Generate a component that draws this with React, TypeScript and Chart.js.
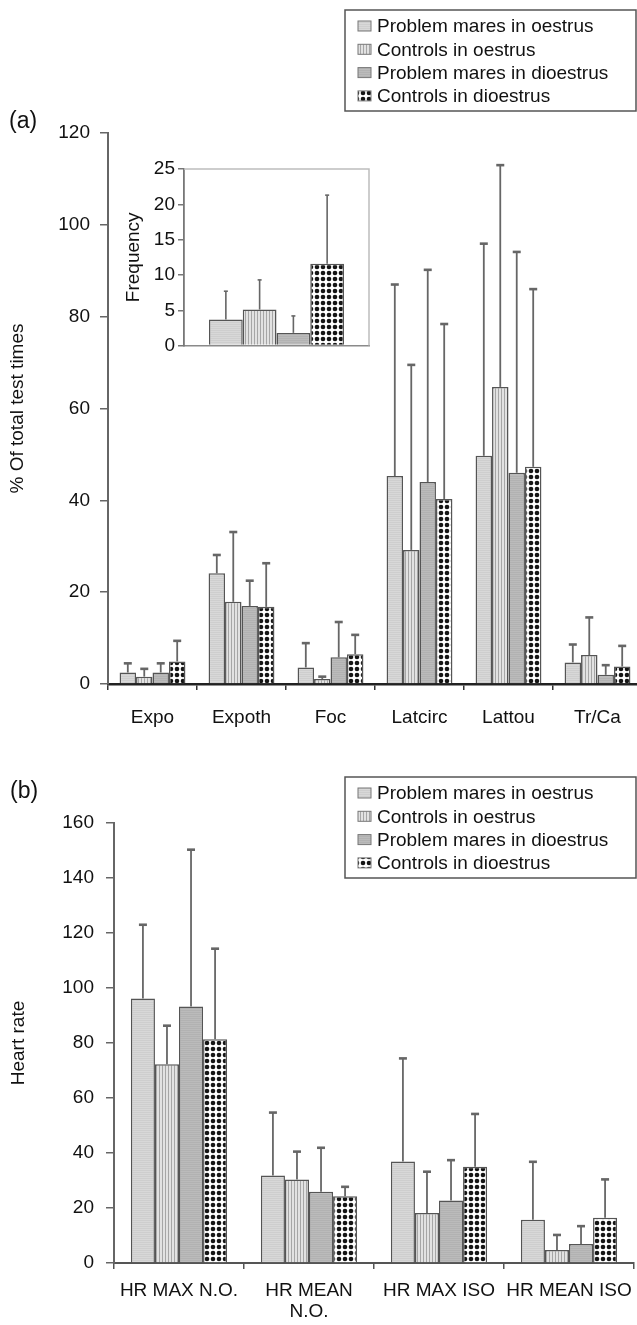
import React, { useEffect, useRef } from 'react';
import { Chart, registerables } from 'chart.js';

Chart.register(...registerables);

const FONT = "'Liberation Sans', Arial, Helvetica, sans-serif";

// ---------- DATA ----------
const seriesLabels = [
  'Problem mares in oestrus',
  'Controls in oestrus',
  'Problem mares in dioestrus',
  'Controls in dioestrus',
];

// (a) behaviour, % of total test times
const behaviourCategories = ['Expo', 'Expoth', 'Foc', 'Latcirc', 'Lattou', 'Tr/Ca'];
const behProblemOestrus = [2.5, 24.1, 3.6, 45.3, 49.7, 4.7];
const behProblemOestrusSD = [2.0, 4.0, 5.3, 41.7, 46.2, 3.9];
const behControlsOestrus = [1.6, 17.9, 1.1, 29.2, 64.7, 6.3];
const behControlsOestrusSD = [1.7, 15.2, 0.5, 40.3, 48.3, 8.2];
const behProblemDioestrus = [2.5, 17.0, 5.8, 44.0, 46.0, 2.0];
const behProblemDioestrusSD = [2.0, 5.5, 7.7, 46.2, 48.1, 2.1];
const behControlsDioestrus = [4.9, 16.8, 6.5, 40.3, 47.3, 3.8];
const behControlsDioestrusSD = [4.5, 9.5, 4.2, 38.1, 38.7, 4.5];
const behYTicks = [0, 20, 40, 60, 80, 100, 120];

// (a) inset, frequency
const freqCategories = [''];
const freqProblemOestrus = [3.7];
const freqProblemOestrusSD = [4.0];
const freqControlsOestrus = [5.1];
const freqControlsOestrusSD = [4.2];
const freqProblemDioestrus = [1.8];
const freqProblemDioestrusSD = [2.4];
const freqControlsDioestrus = [11.6];
const freqControlsDioestrusSD = [9.7];
const freqYTicks = [0, 5, 10, 15, 20, 25];

// (b) heart rate
const hrCategories: (string | string[])[] = ['HR MAX N.O.', ['HR MEAN', 'N.O.'], 'HR MAX ISO', 'HR MEAN ISO'];
const hrProblemOestrus = [96.2, 31.8, 36.9, 15.7];
const hrProblemOestrusSD = [26.8, 22.9, 37.5, 21.1];
const hrControlsOestrus = [72.3, 30.4, 18.2, 4.7];
const hrControlsOestrusSD = [14.0, 10.1, 15.0, 5.5];
const hrProblemDioestrus = [93.3, 25.9, 22.7, 6.9];
const hrProblemDioestrusSD = [57.0, 16.0, 14.7, 6.5];
const hrControlsDioestrus = [81.4, 24.3, 35.0, 16.5];
const hrControlsDioestrusSD = [32.9, 3.4, 19.2, 13.9];
const hrYTicks = [0, 20, 40, 60, 80, 100, 120, 140, 160];

// ---------- PATTERNS ----------
function makePattern(kind: number): CanvasPattern | string {
  const c = document.createElement('canvas');
  const size = kind === 3 ? 6 : kind === 1 ? 3 : 2;
  c.width = size;
  c.height = size;
  const g = c.getContext('2d');
  if (!g) return '#ccc';
  if (kind === 0) {
    g.fillStyle = '#d8d8d8';
    g.fillRect(0, 0, size, size);
    g.fillStyle = '#cecece';
    g.fillRect(0, 0, size, 1);
  } else if (kind === 1) {
    g.fillStyle = '#e2e2e2';
    g.fillRect(0, 0, size, size);
    g.fillStyle = '#a6a6a6';
    g.fillRect(0, 0, 1, size);
  } else if (kind === 2) {
    g.fillStyle = '#bbbbbb';
    g.fillRect(0, 0, size, size);
    g.fillStyle = '#b2b2b2';
    g.fillRect(0, 0, size, 1);
  } else {
    g.fillStyle = '#ffffff';
    g.fillRect(0, 0, size, size);
    g.fillStyle = '#151515';
    g.beginPath();
    g.arc(3, 3, 2.3, 0, Math.PI * 2);
    g.fill();
  }
  const p = g.createPattern(c, 'repeat');
  return p || '#ccc';
}

// ---------- PLUGINS ----------
const errorBarPlugin = {
  id: 'errorBars',
  afterDatasetsDraw(chart: any, _args: any, opts: any) {
    const ctx = chart.ctx;
    const yScale = chart.scales.y;
    const cap = opts.cap ?? 4;
    ctx.save();
    ctx.strokeStyle = opts.color || '#666';
    chart.data.datasets.forEach((ds: any, i: number) => {
      const meta = chart.getDatasetMeta(i);
      if (!ds.errors || meta.hidden) return;
      meta.data.forEach((el: any, j: number) => {
        const v = ds.data[j];
        const e = ds.errors[j];
        const x = el.x;
        const y0 = el.y;
        const y1 = yScale.getPixelForValue(v + e);
        ctx.lineWidth = opts.width || 1.8;
        ctx.beginPath();
        ctx.moveTo(x, y0);
        ctx.lineTo(x, y1);
        ctx.stroke();
        ctx.lineWidth = opts.capWidth || 2.4;
        ctx.beginPath();
        ctx.moveTo(x - cap, y1);
        ctx.lineTo(x + cap, y1);
        ctx.stroke();
      });
    });
    ctx.restore();
  },
};

const boxLegendPlugin = {
  id: 'boxLegend',
  afterDraw(chart: any, _args: any, opts: any) {
    if (!opts || !opts.show) return;
    const ctx = chart.ctx;
    const { x, y, w, h, firstRow, rowHeight, swatchX, swatchW, swatchH, textX } = opts;
    ctx.save();
    ctx.fillStyle = '#ffffff';
    ctx.fillRect(x, y, w, h);
    ctx.strokeStyle = '#555';
    ctx.lineWidth = 1.5;
    ctx.strokeRect(x, y, w, h);
    ctx.font = `19px ${FONT}`;
    ctx.textBaseline = 'middle';
    ctx.textAlign = 'left';
    chart.data.datasets.forEach((ds: any, i: number) => {
      const cy = y + firstRow + i * rowHeight;
      ctx.fillStyle = ds.backgroundColor;
      ctx.fillRect(swatchX, cy - swatchH / 2, swatchW, swatchH);
      ctx.strokeStyle = '#777';
      ctx.lineWidth = 1;
      ctx.strokeRect(swatchX, cy - swatchH / 2, swatchW, swatchH);
      ctx.fillStyle = '#111';
      ctx.fillText(ds.label, textX, cy + 1);
    });
    ctx.restore();
  },
};

const insetFramePlugin = {
  id: 'insetFrame',
  afterDraw(chart: any, _args: any, opts: any) {
    if (!opts || !opts.show) return;
    const { left, right, top, bottom } = chart.chartArea;
    const ctx = chart.ctx;
    ctx.save();
    ctx.strokeStyle = '#bdbdbd';
    ctx.lineWidth = 1.5;
    ctx.beginPath();
    ctx.moveTo(left, top);
    ctx.lineTo(right, top);
    ctx.lineTo(right, bottom);
    ctx.stroke();
    ctx.restore();
  },
};

// ---------- HELPERS ----------
function buildDatasets(values: number[][], errs: number[][], patterns: (CanvasPattern | string)[]) {
  return values.map((v, i) => ({
    label: seriesLabels[i],
    data: v,
    errors: errs[i],
    backgroundColor: patterns[i],
    borderColor: '#555',
    borderWidth: 1.5,
    borderSkipped: 'start',
  }));
}

const tickFont = { size: 19, family: FONT };

function App() {
  const aRef = useRef<HTMLCanvasElement>(null);
  const insetRef = useRef<HTMLCanvasElement>(null);
  const bRef = useRef<HTMLCanvasElement>(null);

  useEffect(() => {
    Chart.defaults.font.family = FONT;
    Chart.defaults.color = '#111';
    const patterns = [0, 1, 2, 3].map((k) => makePattern(k));
    const charts: Chart[] = [];

    // ----- Chart (a)
    if (aRef.current) {
      charts.push(
        new Chart(aRef.current, {
          type: 'bar',
          data: {
            labels: behaviourCategories,
            datasets: buildDatasets(
              [behProblemOestrus, behControlsOestrus, behProblemDioestrus, behControlsDioestrus],
              [behProblemOestrusSD, behControlsOestrusSD, behProblemDioestrusSD, behControlsDioestrusSD],
              patterns
            ) as any,
          },
          options: {
            responsive: false,
            animation: false,
            layout: { padding: { top: 133, right: 8, left: 0, bottom: 0 } },
            datasets: { bar: { categoryPercentage: 0.74, barPercentage: 1 } },
            plugins: {
              legend: { display: false },
              tooltip: { enabled: false },
              errorBars: { color: '#666', width: 1.8, capWidth: 2.6, cap: 4 },
              boxLegend: {
                show: true, x: 345, y: 10, w: 291, h: 101, firstRow: 16, rowHeight: 23.3,
                swatchX: 358, swatchW: 13, swatchH: 10, textX: 377,
              },
            } as any,
            scales: {
              x: {
                offset: true,
                grid: { display: true, drawOnChartArea: false, drawTicks: true, tickLength: 6, color: '#333', lineWidth: 1.5, offset: true },
                border: { display: true, color: '#222', width: 2.5 },
                ticks: { font: tickFont, color: '#111', padding: 16, autoSkip: false, maxRotation: 0, minRotation: 0 },
                afterFit: (s: any) => { s.height = 56; },
              },
              y: {
                min: behYTicks[0],
                max: behYTicks[behYTicks.length - 1],
                ticks: { stepSize: behYTicks[1] - behYTicks[0], font: tickFont, color: '#111', padding: 10 },
                grid: { drawOnChartArea: false, drawTicks: true, tickLength: 8, color: '#666', lineWidth: 1.5 },
                border: { display: true, color: '#666', width: 2 },
                title: { display: true, text: '% Of total test times', font: tickFont, color: '#111', padding: { top: 6, bottom: 0 } },
                afterFit: (s: any) => { s.width = 108; },
              },
            },
          },
          plugins: [errorBarPlugin, boxLegendPlugin],
        })
      );
    }

    // ----- Inset
    if (insetRef.current) {
      charts.push(
        new Chart(insetRef.current, {
          type: 'bar',
          data: {
            labels: freqCategories,
            datasets: buildDatasets(
              [freqProblemOestrus, freqControlsOestrus, freqProblemDioestrus, freqControlsDioestrus],
              [freqProblemOestrusSD, freqControlsOestrusSD, freqProblemDioestrusSD, freqControlsDioestrusSD],
              patterns
            ) as any,
          },
          options: {
            responsive: false,
            animation: false,
            layout: { padding: { top: 19, right: 6, left: 0, bottom: 0 } },
            datasets: { bar: { categoryPercentage: 0.73, barPercentage: 1 } },
            plugins: {
              legend: { display: false },
              tooltip: { enabled: false },
              errorBars: { color: '#666', width: 1.6, capWidth: 1.6, cap: 2 },
              insetFrame: { show: true },
            } as any,
            scales: {
              x: {
                offset: true,
                grid: { display: false },
                border: { display: true, color: '#8a8a8a', width: 1.5 },
                ticks: { display: false },
                afterFit: (s: any) => { s.height = 9; },
              },
              y: {
                min: freqYTicks[0],
                max: freqYTicks[freqYTicks.length - 1],
                ticks: { stepSize: freqYTicks[1] - freqYTicks[0], font: tickFont, color: '#111', padding: 3 },
                grid: { drawOnChartArea: false, drawTicks: true, tickLength: 6, color: '#777', lineWidth: 1.5 },
                border: { display: true, color: '#777', width: 1.8 },
                title: { display: true, text: 'Frequency', font: tickFont, color: '#111', padding: { top: 12, bottom: 0 } },
                afterFit: (s: any) => { s.width = 74; },
              },
            },
          },
          plugins: [errorBarPlugin, insetFramePlugin],
        })
      );
    }

    // ----- Chart (b)
    if (bRef.current) {
      charts.push(
        new Chart(bRef.current, {
          type: 'bar',
          data: {
            labels: hrCategories as any,
            datasets: buildDatasets(
              [hrProblemOestrus, hrControlsOestrus, hrProblemDioestrus, hrControlsDioestrus],
              [hrProblemOestrusSD, hrControlsOestrusSD, hrProblemDioestrusSD, hrControlsDioestrusSD],
              patterns
            ) as any,
          },
          options: {
            responsive: false,
            animation: false,
            layout: { padding: { top: 83, right: 16, left: 0, bottom: 0 } },
            datasets: { bar: { categoryPercentage: 0.74, barPercentage: 1 } },
            plugins: {
              legend: { display: false },
              tooltip: { enabled: false },
              errorBars: { color: '#666', width: 1.8, capWidth: 2.6, cap: 4 },
              boxLegend: {
                show: true, x: 345, y: 37, w: 291, h: 101, firstRow: 16, rowHeight: 23.3,
                swatchX: 358, swatchW: 13, swatchH: 10, textX: 377,
              },
            } as any,
            scales: {
              x: {
                offset: true,
                grid: { display: true, drawOnChartArea: false, drawTicks: true, tickLength: 6, color: '#555', lineWidth: 1.5, offset: true },
                border: { display: true, color: '#555', width: 2 },
                ticks: { font: { size: 19, family: FONT, lineHeight: 1.1 }, color: '#111', padding: 11, autoSkip: false, maxRotation: 0, minRotation: 0 },
                afterFit: (s: any) => { s.height = 62; },
              },
              y: {
                min: hrYTicks[0],
                max: hrYTicks[hrYTicks.length - 1],
                ticks: { stepSize: hrYTicks[1] - hrYTicks[0], font: tickFont, color: '#111', padding: 12 },
                grid: { drawOnChartArea: false, drawTicks: true, tickLength: 8, color: '#666', lineWidth: 1.5 },
                border: { display: true, color: '#666', width: 2 },
                title: { display: true, text: 'Heart rate', font: tickFont, color: '#111', padding: { top: 7, bottom: 0 } },
                afterFit: (s: any) => { s.width = 114; },
              },
            },
          },
          plugins: [errorBarPlugin, boxLegendPlugin],
        })
      );
    }

    return () => {
      charts.forEach((c) => c.destroy());
    };
  }, []);

  const panelLabel: React.CSSProperties = {
    position: 'absolute',
    fontFamily: FONT,
    fontSize: 23,
    lineHeight: '23px',
    color: '#111',
  };

  return (
    <div
      style={{
        position: 'absolute',
        left: 0,
        top: 0,
        width: 637,
        height: 1325,
        overflow: 'hidden',
        background: '#fff',
      }}
    >
      <canvas ref={aRef} width={650} height={740} style={{ position: 'absolute', left: 0, top: 0 }} />
      <canvas ref={insetRef} width={265} height={210} style={{ position: 'absolute', left: 110, top: 150 }} />
      <canvas ref={bRef} width={650} height={585} style={{ position: 'absolute', left: 0, top: 740 }} />
      <div style={{ ...panelLabel, left: 9, top: 109 }}>(a)</div>
      <div style={{ ...panelLabel, left: 10, top: 779 }}>(b)</div>
    </div>
  );
}

export default App;
